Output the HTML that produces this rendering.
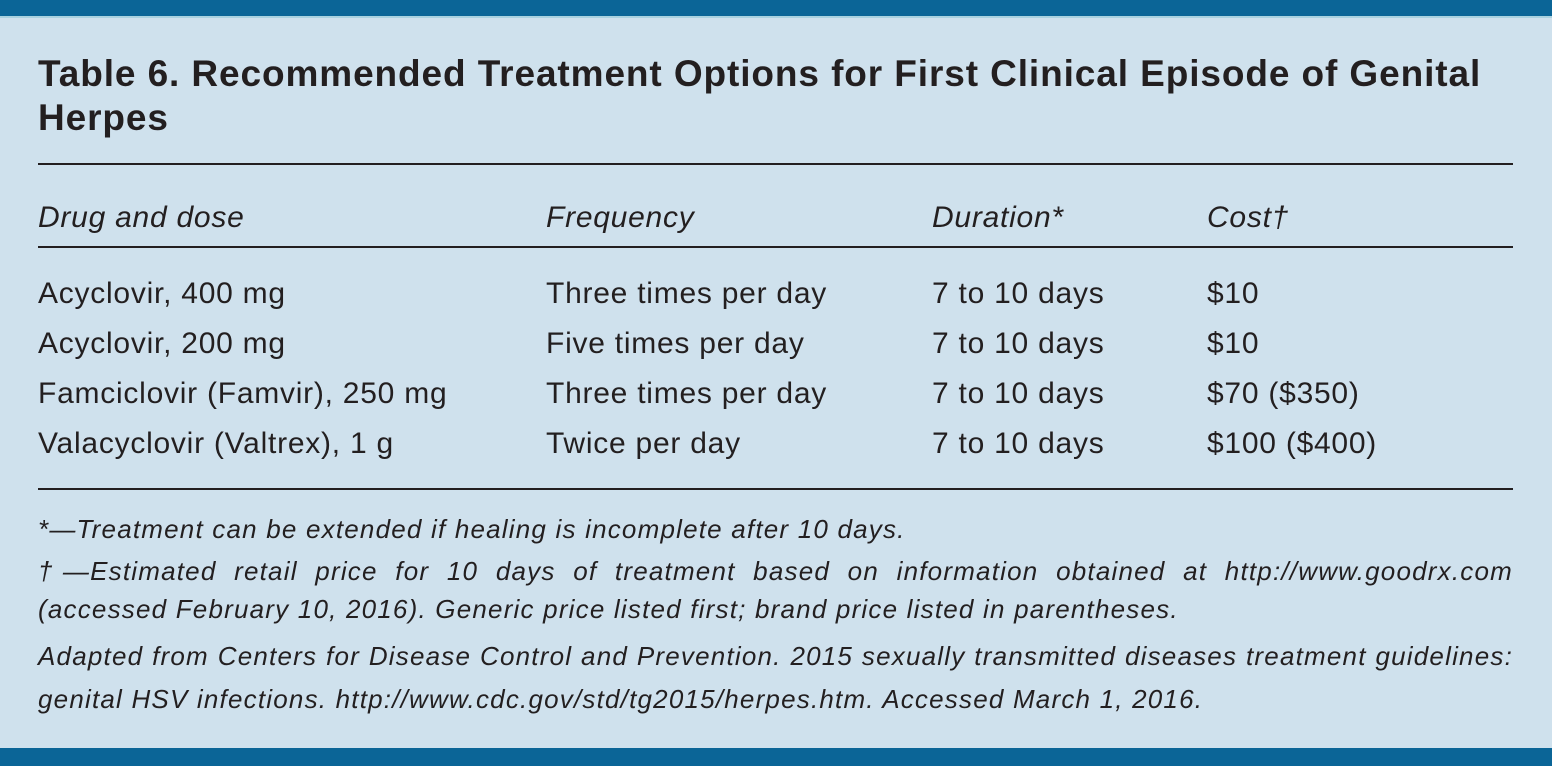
<!DOCTYPE html><html><head><style>
body{margin:0;width:1552px;height:766px;background:#cfe1ed;position:relative;overflow:hidden;font-family:"Liberation Sans",sans-serif;color:#231f20}
.bar{position:absolute;left:0;width:1552px;background:#0b6597}
.t{position:absolute;white-space:nowrap}
.r{position:absolute;left:38px;width:1475px;height:2px;background:#231f20}
.h{position:absolute;left:38px;margin:0;font-size:37px;line-height:43px;font-weight:bold;white-space:nowrap;letter-spacing:0.9px}
.c{font-size:30px;letter-spacing:0.75px}
.i{font-style:italic}
.f{position:absolute;left:38px;width:1475px;font-size:26px;letter-spacing:1.2px;font-style:italic;white-space:nowrap}
.j{text-align:justify;text-align-last:justify}
</style></head><body>
<div class="bar" style="top:0;height:16px"></div>
<div class="bar" style="top:16px;height:2px;background:#a9d2e0"></div>
<div class="bar" style="top:748px;height:18px"></div>
<div class="h" style="top:52px">Table 6. Recommended Treatment Options for First Clinical Episode of Genital</div>
<div class="h" style="top:96px">Herpes</div>
<div class="r" style="top:163px"></div>
<div class="t c i" style="left:38px;top:201px">Drug and dose</div>
<div class="t c i" style="left:546px;top:201px">Frequency</div>
<div class="t c i" style="left:932px;top:201px">Duration*</div>
<div class="t c i" style="left:1207px;top:201px">Cost†</div>
<div class="r" style="top:246px"></div>
<div class="t c" style="left:38px;top:277px">Acyclovir, 400 mg</div><div class="t c" style="left:546px;top:277px">Three times per day</div><div class="t c" style="left:932px;top:277px">7 to 10 days</div><div class="t c" style="left:1207px;top:277px">$10</div>
<div class="t c" style="left:38px;top:327px">Acyclovir, 200 mg</div><div class="t c" style="left:546px;top:327px">Five times per day</div><div class="t c" style="left:932px;top:327px">7 to 10 days</div><div class="t c" style="left:1207px;top:327px">$10</div>
<div class="t c" style="left:38px;top:377px">Famciclovir (Famvir), 250 mg</div><div class="t c" style="left:546px;top:377px">Three times per day</div><div class="t c" style="left:932px;top:377px">7 to 10 days</div><div class="t c" style="left:1207px;top:377px">$70 ($350)</div>
<div class="t c" style="left:38px;top:427px">Valacyclovir (Valtrex), 1 g</div><div class="t c" style="left:546px;top:427px">Twice per day</div><div class="t c" style="left:932px;top:427px">7 to 10 days</div><div class="t c" style="left:1207px;top:427px">$100 ($400)</div>
<div class="r" style="top:488px"></div>
<div class="f" style="top:514px">*—Treatment can be extended if healing is incomplete after 10 days.</div>
<div class="f j" style="top:556px">†—Estimated retail price for 10 days of treatment based on information obtained at http://www.goodrx.com</div>
<div class="f" style="top:594px">(accessed February 10, 2016). Generic price listed first; brand price listed in parentheses.</div>
<div class="f j" style="top:641px">Adapted from Centers for Disease Control and Prevention. 2015 sexually transmitted diseases treatment guidelines:</div>
<div class="f" style="top:684px">genital HSV infections. http://www.cdc.gov/std/tg2015/herpes.htm. Accessed March 1, 2016.</div>
</body></html>
